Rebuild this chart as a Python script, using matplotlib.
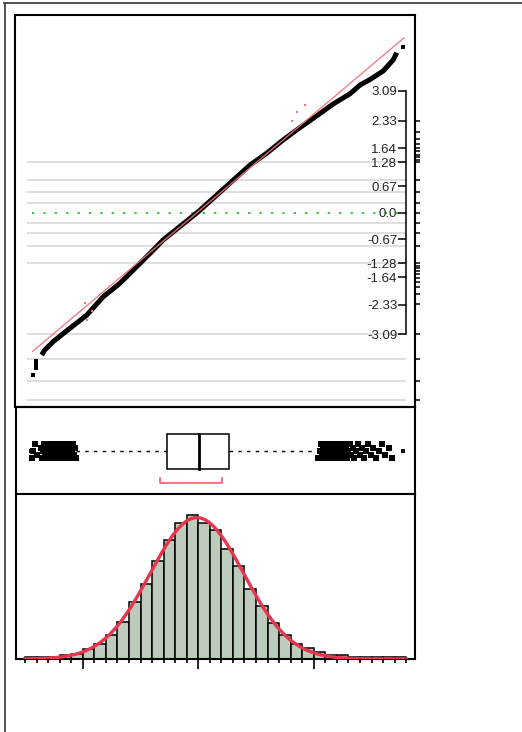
import numpy as np
import matplotlib
matplotlib.use("Agg")
import matplotlib.pyplot as plt
from matplotlib.lines import Line2D
from matplotlib.patches import Rectangle

plt.rcParams['font.family'] = ['Liberation Sans', 'DejaVu Sans']

# ---- data -------------------------------------------------------------
# histogram, bins 0.5 wide starting at -7.5
bin_start = -7.5
bin_width = 0.5
counts = [10, 10, 12, 18, 27, 48, 73, 122, 185, 282, 375, 490, 593, 680, 718,
          680, 643, 547, 463, 348, 265, 180, 122, 73, 57, 37, 20, 20, 10, 8, 8, 8, 8]

# fitted normal
fit_mean = -0.06
fit_sd = 2.02

# normal quantile plot (sorted data vs normal quantile)
qq_x = [-6.78, -6.64, -6.28, -5.55, -4.83, -4.11, -3.39, -2.67, -1.95, -1.52,
        -0.01, 2.24, 2.96, 3.68, 4.40, 5.13, 5.84, 6.57, 7.00, 7.43, 8.01, 8.44, 8.59]
qq_q = [-3.61, -3.48, -3.27, -2.93, -2.60, -2.13, -1.79, -1.37, -0.95, -0.69,
        0.02, 1.21, 1.51, 1.85, 2.16, 2.46, 2.76, 3.02, 3.24, 3.38, 3.60, 3.88, 4.06]
tail_x = [-7.17, -7.03, -7.03, -7.03, 8.85]
tail_q = [-4.13, -3.94, -3.85, -3.76, 4.21]
red_x = [4.63, 4.27, 4.06, -4.83, -4.61, -4.90]
red_q = [2.74, 2.56, 2.33, -2.72, -2.50, -2.28]

q_ticks = [3.09, 2.33, 1.64, 1.28, 0.67, 0.0, -0.67, -1.28, -1.64, -2.33, -3.09]
q_labels = ['3.09', '2.33', '1.64', '1.28', '0.67', '0.0', '-0.67', '-1.28', '-1.64', '-2.33', '-3.09']
# probability grid (as normal quantiles): 0.1 .. 0.9 and 1e-3 .. 1e-6
grid_q = [1.2816, 0.8416, 0.5244, 0.2533, -0.2533, -0.5244, -0.8416, -1.2816,
          -3.0902, -3.7190, -4.2649, -4.7534]
# probability ticks on the outer right edge
prob_q = [2.3263, 2.0537, 1.8808, 1.7507, 1.6449, 1.5548, 1.4758, 1.4051, 1.3408, 1.2816,
          0.8416, 0.5244, 0.2533, 0.0, -0.2533, -0.5244, -0.8416,
          -1.2816, -1.3408, -1.4051, -1.4758, -1.5548, -1.6449, -1.7507, -1.8808, -2.0537, -2.3263,
          -3.0902, -3.7190, -4.2649, -4.7534]

# outlier box plot
q1, median, q3 = -1.355, 0.03, 1.33
whisker_lo, whisker_hi = -5.29, 5.18
short_half = (-1.66, 1.03)
out_lo = [-7.20, -7.16, -7.05, -6.97,
          -6.82, -6.77, -6.72, -6.67, -6.62, -6.57, -6.52, -6.47, -6.42, -6.37, -6.32,
          -6.27, -6.22, -6.17, -6.12, -6.07, -6.02, -5.97, -5.92, -5.87, -5.82, -5.77,
          -5.72, -5.67, -5.62, -5.57, -5.52, -5.47, -5.42, -5.37, -5.33, -5.29]
out_hi = [5.20, 5.25, 5.30, 5.35, 5.40, 5.45, 5.50, 5.55, 5.60, 5.65, 5.70, 5.75, 5.80,
          5.85, 5.90, 5.95, 6.00, 6.05, 6.10, 6.15, 6.20, 6.25, 6.30, 6.35, 6.40, 6.45,
          6.50, 6.55, 6.60, 6.68, 6.76, 6.84, 6.93, 7.01, 7.10, 7.19, 7.27, 7.36, 7.46,
          7.57, 7.70, 7.82, 7.95, 8.10, 8.25, 8.40]
out_far = [-7.24, 8.87]

# ---- layout -----------------------------------------------------------
W, H = 522, 732
fig = plt.figure(figsize=(W / 100, H / 100), dpi=100)


def px_box(l, t, r, b):
    return [l / W, 1 - b / H, (r - l) / W, (b - t) / H]


xlim = (-7.913, 9.359)
ax_q = fig.add_axes(px_box(15.5, 15, 414.5, 407))
ax_b = fig.add_axes(px_box(15.5, 407, 414.5, 494))
ax_h = fig.add_axes(px_box(15.5, 494, 414.5, 659))

# outer frame lines
fig.add_artist(Line2D([4 / W, 1], [1 - 3.3 / H, 1 - 3.3 / H], color='#444444', lw=1.3))
fig.add_artist(Line2D([4.7 / W, 4.7 / W], [0, 1 - 3.3 / H], color='#444444', lw=1.3))

# ---- normal quantile plot --------------------------------------------
ax_q.set_xlim(*xlim)
ax_q.set_ylim(-4.931, 5.018)
ax_q.hlines(grid_q, -7.42, 8.99, color='#d5d5d5', lw=1.1, zorder=1)
ax_q.hlines(0, -7.2, 8.9, color='#2ec42e', lw=1.3, linestyles=[(0, (1.3, 5.0))], zorder=1)

ax_q.plot(qq_x, qq_q, color='black', lw=3.6, solid_capstyle='butt', zorder=3)
ax_q.plot(tail_x, tail_q, 's', ms=2.8, color='black', mew=0, zorder=3)
fx = np.array([-7.17, 8.90])
ax_q.plot(fx, (fx - fit_mean) / fit_sd, color='#f0707c', lw=1.0, alpha=0.9, zorder=4)
ax_q.plot(red_x, red_q, 's', ms=1.6, color='#f07080', mew=0, zorder=4)

for s in ['top', 'right', 'bottom']:
    ax_q.spines[s].set_visible(False)
ax_q.spines['left'].set_position(('data', 9.0))
ax_q.spines['left'].set_bounds(-3.09, 3.09)
ax_q.spines['left'].set_linewidth(1.1)
ax_q.set_xticks([])
ax_q.set_yticks(q_ticks, q_labels)
ax_q.tick_params(axis='y', direction='out', length=6, width=1.1, pad=0.5,
                 labelsize=9.5, labelcolor='#222222')

ax_p = ax_q.twinx()
ax_p.set_ylim(ax_q.get_ylim())
ax_p.set_yticks(prob_q, [''] * len(prob_q))
ax_p.tick_params(axis='y', direction='out', length=3.6, width=1.1)
for s in ax_p.spines.values():
    s.set_linewidth(1.5)

# ---- outlier box plot --------------------------------------------------
ax_b.set_xlim(*xlim)
ax_b.set_ylim(0, 1)
yc = 0.494
ax_b.plot([whisker_lo, q1], [yc, yc], color='black', lw=1.0, ls=(0, (2.5, 3.8)), zorder=2)
ax_b.plot([q3, whisker_hi], [yc, yc], color='black', lw=1.0, ls=(0, (2.5, 3.8)), zorder=2)
ax_b.add_patch(Rectangle((q1, 0.29), q3 - q1, 0.40, fc='white', ec='black', lw=1.1, zorder=3))
ax_b.plot([median, median], [0.29, 0.69], color='black', lw=2.0, zorder=4)
ax_b.plot([short_half[0], short_half[0], short_half[1], short_half[1]],
          [0.184, 0.126, 0.126, 0.184], color='#f06070', lw=1.2, zorder=3)
jit = [-0.075, 0.0, 0.075, -0.04, 0.04]
ax_b.plot(out_lo, yc + np.resize(jit, len(out_lo)), 's', ms=4.8, color='black', mew=0, zorder=4)
ax_b.plot(out_hi, yc + np.resize(jit, len(out_hi)), 's', ms=4.8, color='black', mew=0, zorder=4)
ax_b.plot(out_far, [yc] * len(out_far), 's', ms=3.0, color='black', mew=0, zorder=4)
ax_b.set_xticks([])
ax_b.set_yticks([])
for s in ax_b.spines.values():
    s.set_linewidth(1.5)

# ---- histogram -----------------------------------------------------------
edges = bin_start + bin_width * np.arange(len(counts) + 1)
ax_h.bar(edges[:-1], counts, width=bin_width, align='edge', color='#bccbbc',
         edgecolor='black', lw=1.1, zorder=2)
n = sum(counts)
xs = np.linspace(edges[0], edges[-1], 400)
dens = n * bin_width / (fit_sd * np.sqrt(2 * np.pi)) * np.exp(-0.5 * ((xs - fit_mean) / fit_sd) ** 2)
ax_h.plot(xs, dens, color='#e8344c', lw=2.4, zorder=3)
ax_h.set_xlim(*xlim)
ax_h.set_ylim(0, 823)
ax_h.set_yticks([])
ax_h.set_xticks([-5, 0, 5])
ax_h.set_xticks(edges, minor=True)
ax_h.tick_params(axis='x', which='major', direction='out', length=7, width=1.2, labelbottom=False)
ax_h.tick_params(axis='x', which='minor', direction='out', length=3, width=1.2)
for s in ax_h.spines.values():
    s.set_linewidth(1.5)

fig.savefig('out.png', dpi=100)
